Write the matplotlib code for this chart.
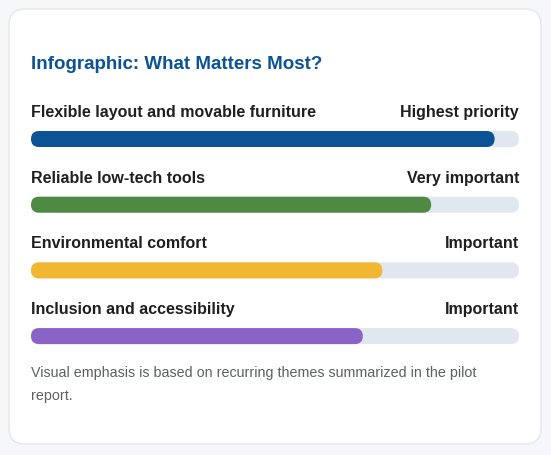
import matplotlib
matplotlib.use("Agg")
import matplotlib.pyplot as plt
from matplotlib.patches import FancyBboxPatch

plt.rcParams['font.family'] = ['Liberation Sans', 'DejaVu Sans']

# data
title = "Infographic: What Matters Most?"
categories = ["Flexible layout and movable furniture", "Reliable low-tech tools",
              "Environmental comfort", "Inclusion and accessibility"]
priorities = ["Highest priority", "Very important", "Important", "Important"]
values = [95, 82, 72, 68]
colors = ["#0b5394", "#4e8a44", "#f2b731", "#8a63c8"]
note = "Visual emphasis is based on recurring themes summarized in the pilot\nreport."

W, H = 551, 455
fig = plt.figure(figsize=(W / 100, H / 100), dpi=100)
fig.patch.set_facecolor("#f5f7fa")
ax = fig.add_axes([0, 0, 1, 1])
ax.set_xlim(0, W)
ax.set_ylim(H, 0)
ax.axis("off")

# card
card = FancyBboxPatch((9, 9), 532, 435, boxstyle="round,pad=0,rounding_size=16",
                      facecolor="white", edgecolor="#e3e7ec", linewidth=1)
ax.add_patch(card)

ax.text(31, 64.5, title, fontsize=13.5, fontweight="bold", color="#0b5394",
        va="center", ha="left")

x0, x1 = 31, 519
track_w = x1 - x0
bar_h = 16
for i, (cat, pr, v, c) in enumerate(zip(categories, priorities, values, colors)):
    ly = 112.5 + i * 65.7
    by = 139 + i * 65.7
    ax.text(x0, ly, cat, fontsize=11.5, fontweight="bold", color="#1f1f1f",
            va="center", ha="left")
    ax.text(x1, ly, pr, fontsize=11.5, fontweight="bold", color="#1f1f1f",
            va="center", ha="right")
    ax.add_patch(FancyBboxPatch((x0, by - bar_h / 2), track_w, bar_h,
                                boxstyle="round,pad=0,rounding_size=8",
                                facecolor="#e1e7ef", edgecolor="none"))
    ax.add_patch(FancyBboxPatch((x0, by - bar_h / 2), track_w * v / 100, bar_h,
                                boxstyle="round,pad=0,rounding_size=8",
                                facecolor=c, edgecolor="none"))

ax.text(x0, 366, note, fontsize=10.3, color="#5b5f66", va="top", ha="left",
        linespacing=1.8)

fig.savefig("out.png", dpi=100, facecolor=fig.get_facecolor())
